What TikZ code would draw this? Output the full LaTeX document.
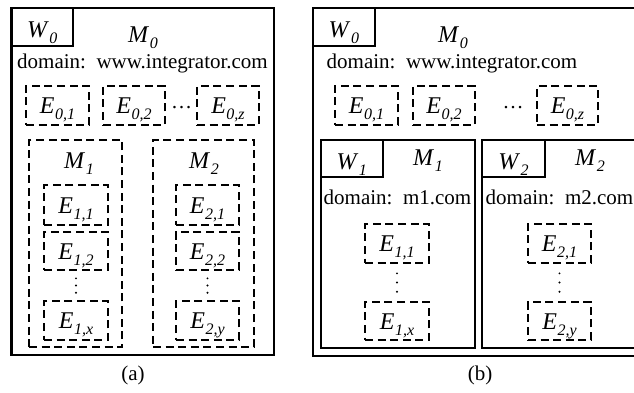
\documentclass[tikz,border=0pt]{standalone}
\usepackage{fontspec}
\setmainfont{Liberation Serif}
\usetikzlibrary{calc}
% italic symbol with an italic subscript, e.g. E_{0,1}
\newcommand{\lbl}[2]{{\fontsize{24}{27}\selectfont\textit{#1}}\kern0.5pt\raisebox{-6pt}{\fontsize{16}{18}\selectfont\textit{#2}}}
\begin{document}
\begin{tikzpicture}[x=1pt,y=-1pt,
  every node/.style={font=\fontsize{21}{25}\selectfont, inner sep=0pt},
  dbox/.style={draw, line width=2.4pt, dash pattern=on 8pt off 4.6pt, text height=16pt, text depth=0pt},
  sbox/.style={draw, line width=2pt},
  wbox/.style={sbox, text height=21pt, text depth=0pt},
  dot/.style={fill, radius=1.1pt},
  ]
\useasboundingbox (0,0) rectangle (634,392);
\clip (0,0) rectangle (634,392);

% ---------- panel (a) ----------
\node[sbox, line width=2.6pt, minimum width=262.5, minimum height=347] (A) at (142.75,181.5) {};
\node[wbox, minimum width=61.5, minimum height=38] (aW0) at (42.25,27) {\lbl{W}{0}};
\node (aM0) at (143,38) {\lbl{M}{0}};
\node (adom) at (142.5,63) {domain:\ \ www.integrator.com};

\node[dbox, minimum width=63, minimum height=39] (aE01) at (57.5,105.5) {\lbl{E}{0,1}};
\node[dbox, minimum width=62, minimum height=39] (aE02) at (134,105.5) {\lbl{E}{0,2}};
\node (adots) at (181.5,108) {\ldots};
\node[dbox, minimum width=62, minimum height=39] (aE0z) at (228,105.5) {\lbl{E}{0,z}};

\node[dbox, minimum width=93, minimum height=207] (aM1box) at (75.5,243.5) {};
\node (aM1) at (79,164) {\lbl{M}{1}};
\node[dbox, minimum width=64, minimum height=40] (aE11) at (76,205) {\lbl{E}{1,1}};
\node[dbox, minimum width=64, minimum height=38] (aE12) at (76,251) {\lbl{E}{1,2}};
\node[dbox, minimum width=64, minimum height=39] (aE1x) at (76,320.5) {\lbl{E}{1,x}};
\foreach \f in {0.25,0.5,0.75}
  \fill[dot] ($(aE12.south)!\f!(aE1x.north)$) circle;

\node[dbox, minimum width=101, minimum height=207] (aM2box) at (203.5,243.5) {};
\node (aM2) at (204,164) {\lbl{M}{2}};
\node[dbox, minimum width=63, minimum height=40] (aE21) at (207.5,205) {\lbl{E}{2,1}};
\node[dbox, minimum width=63, minimum height=38] (aE22) at (207.5,251) {\lbl{E}{2,2}};
\node[dbox, minimum width=63, minimum height=39] (aE2y) at (207.5,320.5) {\lbl{E}{2,y}};
\foreach \f in {0.25,0.5,0.75}
  \fill[dot] ($(aE22.south)!\f!(aE2y.north)$) circle;

\node (capa) at (133,375) {(a)};

% ---------- panel (b) ----------
\node[sbox, minimum width=337, minimum height=348] (B) at (481.2,182) {};
\node[wbox, minimum width=62.3, minimum height=38] (bW0) at (343.85,27) {\lbl{W}{0}};
\node (bM0) at (453,38) {\lbl{M}{0}};
\node (bdom) at (452,63) {domain:\ \ www.integrator.com};

\node[dbox, minimum width=63, minimum height=39] (bE01) at (366.5,105.5) {\lbl{E}{0,1}};
\node[dbox, minimum width=62, minimum height=39] (bE02) at (444,105.5) {\lbl{E}{0,2}};
\node (bdots) at (513,108) {\ldots};
\node[dbox, minimum width=61, minimum height=39] (bE0z) at (567.5,105.5) {\lbl{E}{0,z}};

\node[sbox, minimum width=154.5, minimum height=208] (bM1box) at (397.75,244) {};
\node[wbox, minimum width=62.5, minimum height=37] (bW1) at (351.75,158.5) {\lbl{W}{1}};
\node (bM1) at (428,161) {\lbl{M}{1}};
\node (bdom1) at (397.5,197) {domain:\ \ m1.com};
\node[dbox, minimum width=64, minimum height=39] (bE11) at (397,243.5) {\lbl{E}{1,1}};
\node[dbox, minimum width=64, minimum height=38] (bE1x) at (397,321) {\lbl{E}{1,x}};
\foreach \f in {0.25,0.5,0.75}
  \fill[dot] ($(bE11.south)!\f!(bE1x.north)$) circle;

\node[sbox, minimum width=154.5, minimum height=208] (bM2box) at (559.25,244) {};
\node[wbox, minimum width=63, minimum height=37] (bW2) at (513.5,158.5) {\lbl{W}{2}};
\node (bM2) at (590,161) {\lbl{M}{2}};
\node (bdom2) at (559.5,197) {domain:\ \ m2.com};
\node[dbox, minimum width=63, minimum height=39] (bE21) at (559.5,243.5) {\lbl{E}{2,1}};
\node[dbox, minimum width=63, minimum height=38] (bE2y) at (559.5,321) {\lbl{E}{2,y}};
\foreach \f in {0.25,0.5,0.75}
  \fill[dot] ($(bE21.south)!\f!(bE2y.north)$) circle;

\node (capb) at (480,375) {(b)};
\end{tikzpicture}
\end{document}
